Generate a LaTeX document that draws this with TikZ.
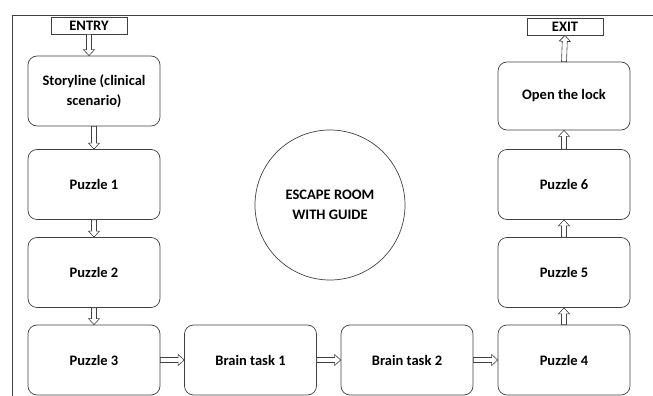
\documentclass[tikz,border=0pt]{standalone}
\usepackage{fontspec}
\setmainfont{Carlito}
\usetikzlibrary{calc}
\tikzset{
	stage/.style={draw=black!75,line width=0.7pt,rounded corners=9pt,minimum width=132pt,minimum height=70pt,align=center,font=\fontsize{14.5}{20}\selectfont\bfseries},
	gate/.style={draw=black!75,line width=0.7pt,minimum width=76pt,minimum height=17pt,inner sep=0pt,font=\fontsize{14.5}{15}\selectfont\bfseries},
	hollow/.style={draw=black!75,line width=0.6pt,fill=white,to path={
		($(\tikztostart)!2.5pt!-90:(\tikztotarget)$) --
		($(\tikztotarget)!6pt!(\tikztostart)!2.5pt!90:(\tikztostart)$) --
		($(\tikztotarget)!6pt!(\tikztostart)!5.5pt!90:(\tikztostart)$) --
		(\tikztotarget) --
		($(\tikztotarget)!6pt!(\tikztostart)!5.5pt!-90:(\tikztostart)$) --
		($(\tikztotarget)!6pt!(\tikztostart)!2.5pt!-90:(\tikztostart)$) --
		($(\tikztostart)!2.5pt!90:(\tikztotarget)$) -- cycle}}
}
\begin{document}
\begin{tikzpicture}[x=1pt,y=-1pt]
		\useasboundingbox (0,0) rectangle (653,396);
		
		\draw[black!75,line width=0.8pt] (653,15) -- (12,15) -- (12,396);
		
		\node[gate] (entry) at (89,25.5){ENTRY};
		\node[stage] (story) at (94,91){Storyline (clinical\\scenario)};
		\node[stage] (p1) at (94,184.5){Puzzle 1};
		\node[stage] (p2) at (94,272.5){Puzzle 2};
		\node[stage] (p3) at (94,360){Puzzle 3};
		
		\node[stage] (b1) at (250.5,360){Brain task 1};
		\node[stage] (b2) at (407,360){Brain task 2};
		
		\node[stage] (p4) at (564,360){Puzzle 4};
		\node[stage] (p5) at (564,272.5){Puzzle 5};
		\node[stage] (p6) at (564,184.5){Puzzle 6};
		\node[stage,minimum height=68pt] (lock) at (564,96){Open the lock};
		\node[gate] (exit) at (565,26.5){EXIT};
		
		\node[draw=black!75,line width=0.7pt,circle,minimum size=150pt,align=center,font=\fontsize{14.5}{20}\selectfont\bfseries] (guide) at (330,205){ESCAPE ROOM\\WITH GUIDE};
		
		\draw[hollow] (entry.south) to (entry.south |- story.north);
		\draw[hollow] (story.south) to (p1.north);
		\draw[hollow] (p1.south) to (p2.north);
		\draw[hollow] (p2.south) to (p3.north);
		\draw[hollow] (p3.east) to (b1.west);
		\draw[hollow] (b1.east) to (b2.west);
		\draw[hollow] (b2.east) to (p4.west);
		\draw[hollow] (p4.north) to (p5.south);
		\draw[hollow] (p5.north) to (p6.south);
		\draw[hollow] (p6.north) to (lock.south);
		\draw[hollow] (lock.north) to (exit.south);
	\end{tikzpicture}
\end{document}
